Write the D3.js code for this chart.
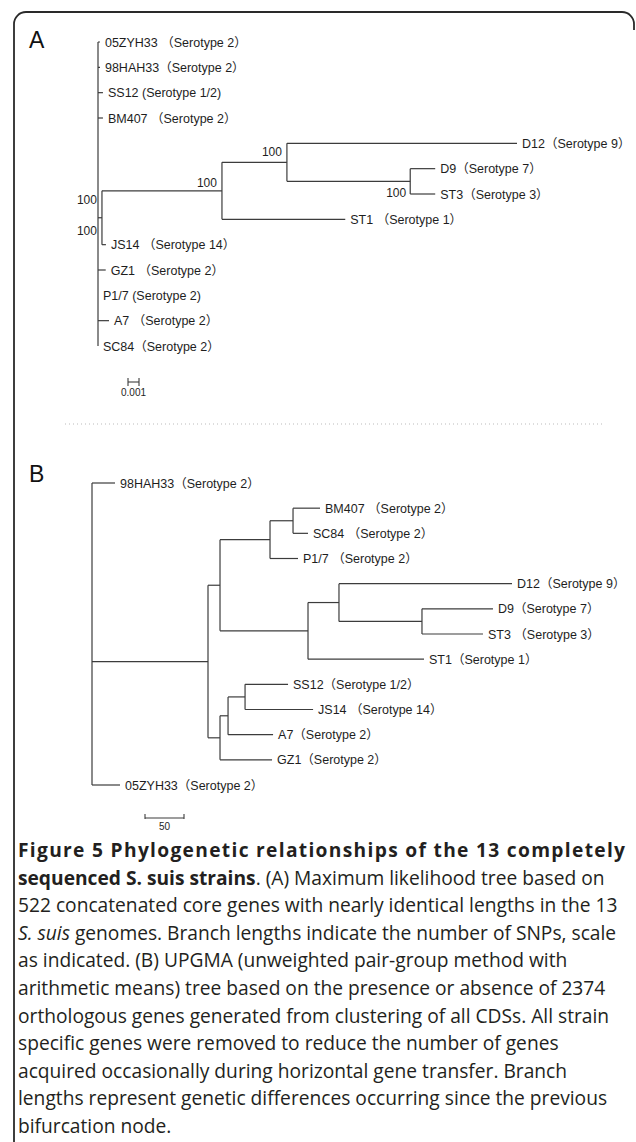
<!DOCTYPE html>
<html><head><meta charset="utf-8">
<script src="https://cdn.jsdelivr.net/npm/d3@7"></script>
<style>html,body{margin:0;padding:0;background:#fff;} svg{display:block;}</style>
</head><body>
<svg id="chart" width="636" height="1142"></svg>
<script>
// ---------- Tree A (maximum likelihood, branch lengths in substitutions/site) ----------
const treeA_ids    = ["rootA","05ZYH33","98HAH33","SS12","BM407","A_n1","A_n2","A_n3","D12","A_n4","D9","ST3","ST1","JS14","GZ1","P1/7","A7","SC84"];
const treeA_parent = [null,"rootA","rootA","rootA","rootA","rootA","A_n1","A_n2","A_n3","A_n3","A_n4","A_n4","A_n2","A_n1","rootA","rootA","rootA","rootA"];
const treeA_length = [0,0.00018,0.00018,0.00045,0.00045,0.00036,0.0109,0.0059,0.0209,0.0112,0.00227,0.00227,0.0112,0.00036,0.0007,0,0.001,0];
const treeA_label  = [null,"05ZYH33 （Serotype 2）","98HAH33（Serotype 2）","SS12 (Serotype 1/2)","BM407 （Serotype 2）",null,null,null,"D12（Serotype 9）",null,"D9（Serotype 7）","ST3（Serotype 3）","ST1 （Serotype 1）","JS14 （Serotype 14）","GZ1 （Serotype 2）","P1/7 (Serotype 2)","A7 （Serotype 2）","SC84（Serotype 2）"];
const treeA_supportNode  = ["A_n1","A_n1","A_n2","A_n3","A_n4"];
const treeA_supportValue = [100,100,100,100,100];
const treeA_scaleValue = 0.001;
const treeA_scaleLabel = "0.001";

// ---------- Tree B (UPGMA, branch lengths in gene differences) ----------
const treeB_ids    = ["rootB","98HAH33","B_n1","B_u","B_ua","B_uaa","BM407","SC84","P1/7","B_ub","B_uba","D12","B_ubab","D9","ST3","ST1","B_l","B_la","B_laa","SS12","JS14","A7","GZ1","05ZYH33"];
const treeB_parent = [null,"rootB","rootB","B_n1","B_u","B_ua","B_uaa","B_uaa","B_ua","B_u","B_ub","B_uba","B_uba","B_ubab","B_ubab","B_ub","B_n1","B_l","B_la","B_laa","B_laa","B_la","B_l","rootB"];
const treeB_length = [0,29.5,148.7,15.4,64.1,29.5,34.6,19.2,35.9,112.8,39.7,221.8,106.4,91,78.2,148.7,15.4,10.3,21.8,55.1,87.2,57.7,66.7,35.9];
const treeB_label  = [null,"98HAH33（Serotype 2）",null,null,null,null,"BM407 （Serotype 2）","SC84 （Serotype 2）","P1/7 （Serotype 2）",null,null,"D12（Serotype 9）",null,"D9（Serotype 7）","ST3 （Serotype 3）","ST1（Serotype 1）",null,null,null,"SS12（Serotype 1/2）","JS14 （Serotype 14）","A7（Serotype 2）","GZ1（Serotype 2）","05ZYH33（Serotype 2）"];
const treeB_scaleValue = 50;
const treeB_scaleLabel = "50";

// ---------- Caption ----------
const captionLines = [
  [["Figure 5 Phylogenetic relationships of the 13 completely","b"]],
  [["sequenced S. suis strains","b"],[". (A) Maximum likelihood tree based on","n"]],
  [["522 concatenated core genes with nearly identical lengths in the 13","n"]],
  [["S. suis","i"],[" genomes. Branch lengths indicate the number of SNPs, scale","n"]],
  [["as indicated. (B) UPGMA (unweighted pair-group method with","n"]],
  [["arithmetic means) tree based on the presence or absence of 2374","n"]],
  [["orthologous genes generated from clustering of all CDSs. All strain","n"]],
  [["specific genes were removed to reduce the number of genes","n"]],
  [["acquired occasionally during horizontal gene transfer. Branch","n"]],
  [["lengths represent genetic differences occurring since the previous","n"]],
  [["bifurcation node.","n"]]
];

const svg = d3.select("#chart");
svg.append("rect").attr("width",636).attr("height",1142).attr("fill","#fff");

const LINE = "#3c3c3c", TXT = "#1e1e1e";
const treeFont = "'Liberation Sans', Arial, 'Noto Sans CJK SC', sans-serif";

// frame
svg.append("path")
  .attr("d","M14,1142 L14,24 A12,12 0 0 1 26,12 L622,12 A12,12 0 0 1 634,24 L634,30")
  .attr("fill","none").attr("stroke","#2a2a2a").attr("stroke-width",1.8);

function buildTree(ids, parents, lengths, labels) {
  const rows = ids.map((id,i)=>({id, parent: parents[i], len: lengths[i], label: labels[i]}));
  const root = d3.stratify().id(d=>d.id).parentId(d=>d.parent)(rows);
  root.eachBefore(n => { n.dist = n.parent ? n.parent.dist + n.data.len : 0; });
  root.leaves().forEach((l,i)=> l.idx = i);
  root.eachAfter(n => { if (n.children) n.idx = (n.children[0].idx + n.children[n.children.length-1].idx)/2; });
  return root;
}

function drawTree(g, root, x, y, gap) {
  const nodes = root.descendants();
  g.selectAll("line.h").data(nodes.filter(n=>n.parent)).join("line")
    .attr("x1", n=>x(n.parent.dist)).attr("x2", n=>x(n.dist))
    .attr("y1", n=>y(n.idx)).attr("y2", n=>y(n.idx))
    .attr("stroke", LINE).attr("stroke-width", 1.2);
  g.selectAll("line.v").data(nodes.filter(n=>n.children)).join("line")
    .attr("x1", n=>x(n.dist)).attr("x2", n=>x(n.dist))
    .attr("y1", n=>y(n.children[0].idx)).attr("y2", n=>y(n.children[n.children.length-1].idx))
    .attr("stroke", LINE).attr("stroke-width", 1.2);
  g.selectAll("text.leaf").data(root.leaves()).join("text")
    .attr("x", n=>x(n.dist)+gap).attr("y", n=>y(n.idx)).attr("dy","0.36em")
    .attr("font-family", treeFont).attr("font-size", 12.5).attr("fill", TXT)
    .text(n=>n.data.label);
}

// ---------- Panel A ----------
const rootA = buildTree(treeA_ids, treeA_parent, treeA_length, treeA_label);
const maxA = d3.max(rootA.leaves(), n=>n.dist);
const xA = d3.scaleLinear().domain([0, maxA]).range([98, 517]);
const yA = d3.scaleLinear().domain([0, rootA.leaves().length-1]).range([42, 346]);
drawTree(svg.append("g"), rootA, xA, yA, 5);

svg.append("text").attr("x",29).attr("y",48).attr("font-family",treeFont).attr("font-size",23).attr("fill","#111").text("A");

const supDx = [-5,-5,-5,-5,-4], supDy = [-14,17,-4,-6,16];
const nodeA = new Map(rootA.descendants().map(n=>[n.id,n]));
treeA_supportNode.forEach((id,i)=>{
  const n = nodeA.get(id);
  svg.append("text").attr("x", xA(n.dist)+supDx[i]).attr("y", yA(n.idx)+supDy[i])
    .attr("text-anchor","end").attr("font-family",treeFont).attr("font-size",12).attr("fill",TXT)
    .text(treeA_supportValue[i]);
});

// scale bar A
{
  const x0 = 128, yb = 382, w = xA(treeA_scaleValue) - xA(0);
  const sb = svg.append("g").attr("stroke",LINE).attr("stroke-width",1.1);
  sb.append("line").attr("x1",x0).attr("x2",x0+w).attr("y1",yb).attr("y2",yb);
  sb.append("line").attr("x1",x0).attr("x2",x0).attr("y1",yb-4).attr("y2",yb+4);
  sb.append("line").attr("x1",x0+w).attr("x2",x0+w).attr("y1",yb-4).attr("y2",yb+4);
  svg.append("text").attr("x",x0+w/2).attr("y",396).attr("text-anchor","middle")
    .attr("font-family",treeFont).attr("font-size",10).attr("fill",TXT).text(treeA_scaleLabel);
}

// dotted separator
svg.append("line").attr("x1",65).attr("x2",603).attr("y1",424).attr("y2",424)
  .attr("stroke","#bbb").attr("stroke-width",1).attr("stroke-dasharray","1,3");

// ---------- Panel B ----------
const rootB = buildTree(treeB_ids, treeB_parent, treeB_length, treeB_label);
const maxB = d3.max(rootB.leaves(), n=>n.dist);
const xB = d3.scaleLinear().domain([0, maxB]).range([92, 512]);
const yB = d3.scaleLinear().domain([0, rootB.leaves().length-1]).range([483, 785]);
drawTree(svg.append("g"), rootB, xB, yB, 5);

svg.append("text").attr("x",29).attr("y",482).attr("font-family",treeFont).attr("font-size",23).attr("fill","#111").text("B");

// scale bar B
{
  const x0 = 145, yb = 818, w = xB(treeB_scaleValue) - xB(0);
  const sb = svg.append("g").attr("stroke",LINE).attr("stroke-width",1.1);
  sb.append("line").attr("x1",x0).attr("x2",x0+w).attr("y1",yb).attr("y2",yb);
  sb.append("line").attr("x1",x0).attr("x2",x0).attr("y1",yb-4).attr("y2",yb+1);
  sb.append("line").attr("x1",x0+w).attr("x2",x0+w).attr("y1",yb-4).attr("y2",yb+1);
  svg.append("text").attr("x",x0+w/2).attr("y",830).attr("text-anchor","middle")
    .attr("font-family",treeFont).attr("font-size",10).attr("fill",TXT).text(treeB_scaleLabel);
}

// ---------- Caption ----------
const capLineTarget = [607, null, null, null, null, null, null, null, null, null, null];
captionLines.forEach((segs, li) => {
  const t = svg.append("text").attr("font-family","'Open Sans', 'Noto Sans', sans-serif")
    .attr("font-size",19.2).attr("fill","#231f20")
    .attr("x", 18).attr("y", 857 + li*27.6);
  if (capLineTarget[li]) t.attr("textLength", capLineTarget[li]).attr("lengthAdjust","spacing");
  segs.forEach((s) => {
    const ts = t.append("tspan").text(s[0]);
    if (s[1]==="b") ts.attr("font-weight","bold");
    if (s[1]==="i") ts.attr("font-style","italic");
  });
});
</script>
</body></html>
